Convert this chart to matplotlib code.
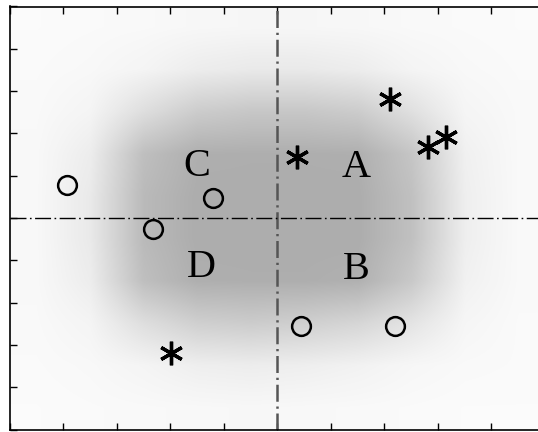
import numpy as np
import matplotlib
matplotlib.use("Agg")
import matplotlib.pyplot as plt
from matplotlib.colors import LinearSegmentedColormap

# ---- data ----
# open-circle points
circle_x = [-3.92, -1.20, -2.32, 0.44, 2.21]
circle_y = [0.79, 0.47, -0.26, -2.56, -2.56]
# asterisk points
star_x = [0.38, 2.12, 2.82, 3.15, -1.99]
star_y = [1.45, 2.82, 1.69, 1.91, -3.18]
# quadrant labels
label_text = ["A", "B", "C", "D"]
label_x = [1.48, 1.49, -1.49, -1.42]
label_y = [1.20, -1.22, 1.21, -1.18]
# estimated relative point density of the grey cloud on a 1-unit grid
# (rows from y=4.5 at the top down to y=-4.5, columns x=-4.5 .. 4.5)
density = [
    [0.05, 0.06, 0.07, 0.09, 0.10, 0.10, 0.09, 0.07, 0.06, 0.05],
    [0.06, 0.08, 0.13, 0.22, 0.26, 0.26, 0.22, 0.13, 0.08, 0.06],
    [0.07, 0.13, 0.40, 0.62, 0.68, 0.68, 0.62, 0.38, 0.12, 0.07],
    [0.08, 0.22, 0.78, 0.97, 0.98, 0.98, 0.97, 0.70, 0.18, 0.07],
    [0.08, 0.26, 0.84, 1.00, 1.00, 1.00, 1.00, 0.76, 0.20, 0.07],
    [0.08, 0.26, 0.84, 1.00, 1.00, 1.00, 1.00, 0.76, 0.20, 0.07],
    [0.08, 0.22, 0.78, 0.97, 0.98, 0.98, 0.95, 0.66, 0.17, 0.07],
    [0.07, 0.13, 0.40, 0.58, 0.62, 0.58, 0.50, 0.33, 0.11, 0.06],
    [0.06, 0.08, 0.13, 0.20, 0.22, 0.20, 0.16, 0.10, 0.07, 0.06],
    [0.05, 0.06, 0.07, 0.08, 0.09, 0.08, 0.07, 0.06, 0.05, 0.05],
]
xlim = (-5, 5)
ylim = (-5, 5)
xticks = [-5, -4, -3, -2, -1, 0, 1, 2, 3, 4, 5]
yticks = [-5, -4, -3, -2, -1, 0, 1, 2, 3, 4, 5]

# ---- figure ----
W, H = 538, 432
fig = plt.figure(figsize=(W / 100, H / 100), dpi=100)
ax = fig.add_axes([9.5 / W, (H - 429.5) / H, 535 / W, 423 / H])

cmap = LinearSegmentedColormap.from_list("cloud", ["#ffffff", "#adadad"])
ax.imshow(np.array(density), extent=(xlim[0], xlim[1], ylim[0], ylim[1]),
          origin="upper", cmap=cmap, vmin=0, vmax=1,
          interpolation="bilinear", aspect="auto", zorder=0)

# centre cross lines
ax.axvline(0, color="#555555", lw=1.8, dashes=(6.8, 1.9, 0.9, 1.9), zorder=2)
ax.axhline(0, color="black", lw=1.0, dashes=(11.5, 2.5, 1.2, 2.5), zorder=2)

ax.plot(circle_x, circle_y, linestyle="none", marker="o", markersize=13.5,
        markerfacecolor="none", markeredgecolor="black",
        markeredgewidth=1.8, zorder=4)
ax.plot(star_x, star_y, linestyle="none", marker=(6, 2, 0), markersize=17,
        markeredgecolor="black", markerfacecolor="black",
        markeredgewidth=2.4, zorder=4)

for t, x, y in zip(label_text, label_x, label_y):
    ax.text(x, y, t, fontsize=29, family="Liberation Serif",
            ha="center", va="center", color="black", zorder=5)

ax.set_xlim(*xlim)
ax.set_ylim(*ylim)
ax.set_xticks(xticks)
ax.set_yticks(yticks)
ax.set_xticklabels([])
ax.set_yticklabels([])
ax.tick_params(direction="in", length=5, width=1.0, top=True, right=True,
               bottom=True, left=True, color="black")
for s in ax.spines.values():
    s.set_linewidth(1.2)
    s.set_color("black")

fig.savefig("out.png", dpi=100)
